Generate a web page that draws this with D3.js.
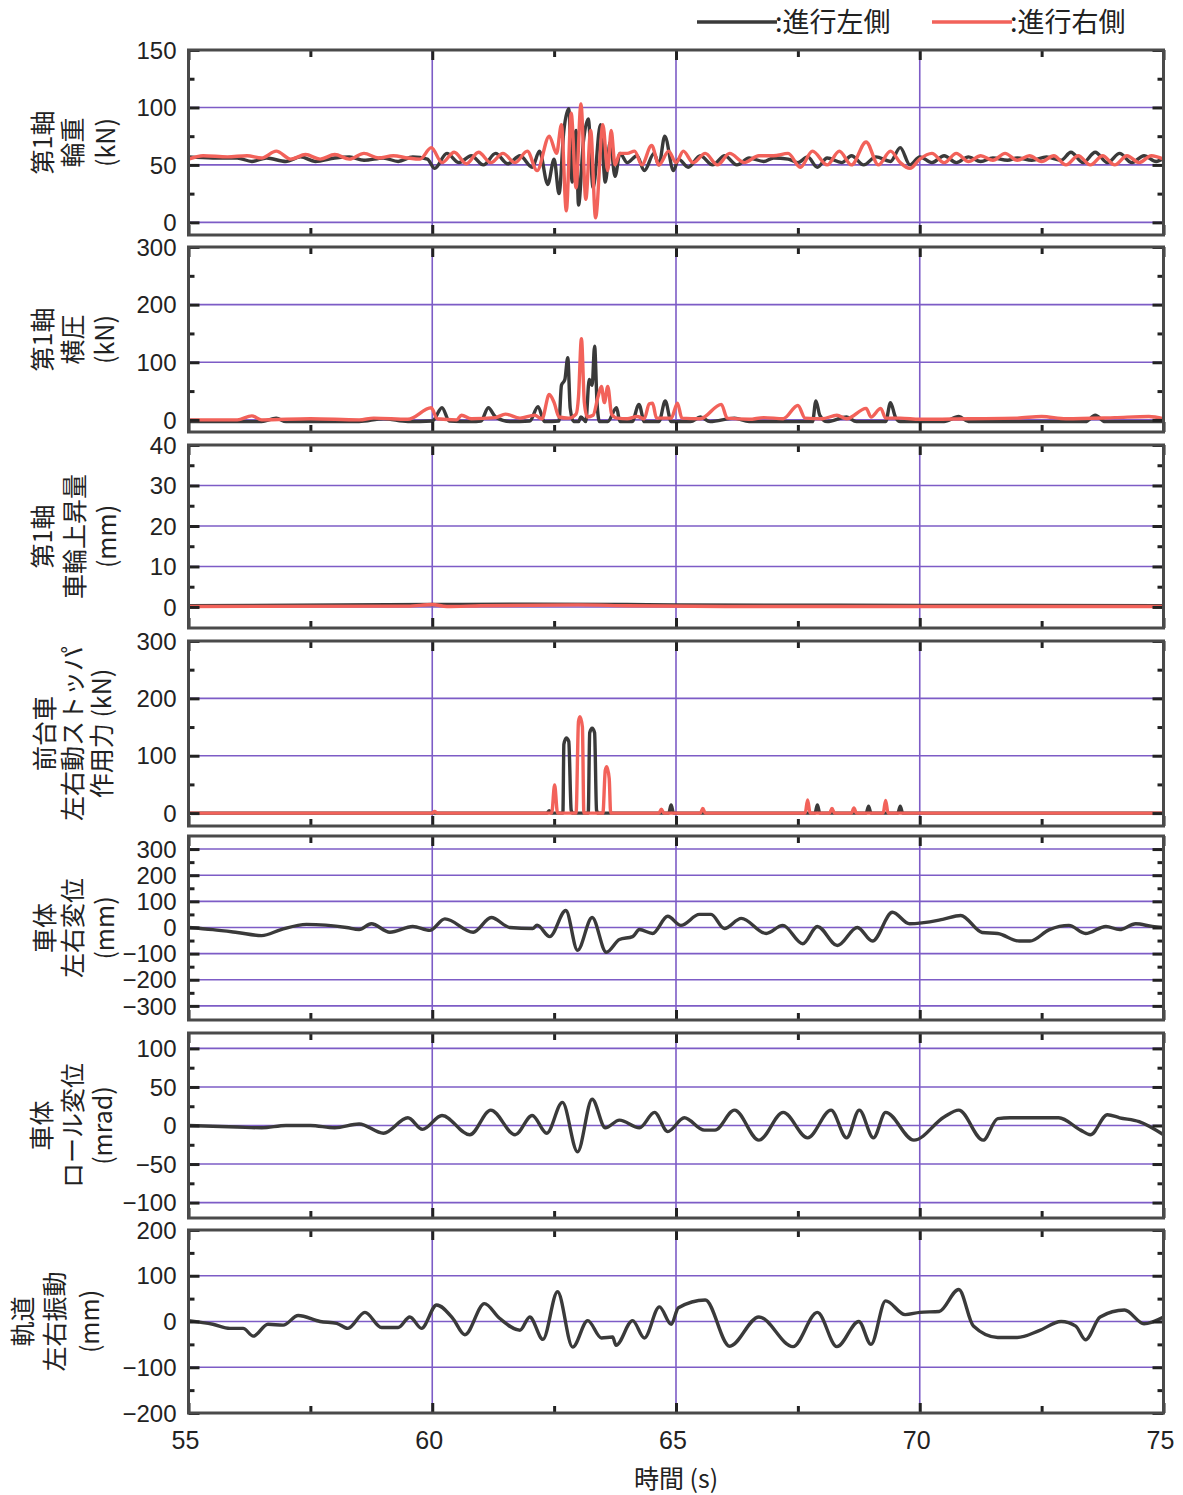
<!DOCTYPE html>
<html>
<head>
<meta charset="utf-8">
<script src="https://cdn.jsdelivr.net/npm/d3@7"></script>
<style>
body { margin:0; background:#fff; }
text { font-family:"Liberation Sans", Arial, "Noto Sans CJK JP", sans-serif; fill:#222; }
</style>
</head>
<body>
<svg id="chart" width="1183" height="1495"></svg>
<script>

// x axis
var timeDomain = [55, 75];
var timeTicks = [55, 60, 65, 70, 75];
var timeMinorTicks = [57.5, 62.5, 67.5, 72.5];
var timeGrid = [60, 65, 70];

// legend
var seriesNames = [':進行左側', ':進行右側'];

// panel 1 : 第1軸 輪重 (kN)
var wheelLoadLeft = [[55,57],[55.5,56],[56,56],[56.3,53],[56.6,56],[57,53],[57.3,57],[57.6,53],[58,56],[58.3,57],[58.6,54],[59,56],[59.3,53],[59.6,57],[59.9,55],[60.05,47],[60.3,60],[60.55,52],[60.8,58],[61.05,50],[61.3,60],[61.55,51],[61.8,58],[62.05,48],[62.2,62],[62.37,33],[62.5,55],[62.6,25],[62.7,80],[62.8,99],[62.87,35],[62.95,80],[63,15],[63.1,70],[63.2,90],[63.3,30],[63.45,85],[63.55,35],[63.65,70],[63.75,40],[63.85,60],[64,52],[64.2,58],[64.35,45],[64.55,60],[64.65,50],[64.77,75],[64.95,45],[65.05,55],[65.25,48],[65.5,58],[65.75,50],[66,58],[66.25,50],[66.5,56],[66.8,53],[67,56],[67.3,55],[67.5,52],[67.7,57],[67.9,48],[68.1,56],[68.4,52],[68.6,58],[68.85,50],[69.1,57],[69.4,53],[69.6,65],[69.8,50],[70,57],[70.25,52],[70.5,58],[70.75,52],[71,57],[71.25,53],[71.5,56],[71.8,54],[72,56],[72.3,54],[72.6,57],[72.9,54],[73.1,61],[73.35,52],[73.6,61],[73.85,52],[74.1,60],[74.35,52],[74.6,58],[74.85,53],[75,56]];
var wheelLoadRight = [[55,55],[55.3,58],[55.8,57],[56.2,58],[56.5,56],[56.8,62],[57.1,55],[57.4,59],[57.7,55],[58,59],[58.3,55],[58.6,60],[58.9,56],[59.2,58],[59.5,56],[59.75,55],[59.98,65],[60.2,52],[60.45,61],[60.7,51],[60.95,61],[61.2,52],[61.45,60],[61.7,52],[61.95,62],[62.15,45],[62.4,75],[62.55,60],[62.65,85],[62.75,10],[62.85,95],[62.95,30],[63.05,103],[63.15,20],[63.25,80],[63.35,4],[63.5,85],[63.6,45],[63.67,80],[63.75,50],[63.85,60],[64,60],[64.15,62],[64.3,50],[64.5,67],[64.65,50],[64.85,62],[65,52],[65.15,62],[65.35,52],[65.6,60],[65.85,50],[66.1,60],[66.4,52],[66.7,58],[67,58],[67.3,60],[67.55,48],[67.8,62],[68.1,50],[68.35,62],[68.6,50],[68.9,70],[69.15,50],[69.4,62],[69.6,52],[69.8,47],[70,55],[70.25,60],[70.5,52],[70.75,60],[71,53],[71.25,58],[71.5,54],[71.75,60],[72,54],[72.25,58],[72.5,53],[72.75,58],[73,50],[73.25,58],[73.5,50],[73.75,58],[74,50],[74.25,58],[74.5,52],[74.75,58],[75,55]];

// panel 2 : 第1軸 横圧 (kN)
var lateralLeft = [[55,-3],[56.5,-3],[56.8,3],[57,-3],[58.5,-3],[59,2],[59.5,-3],[60,-2],[60.2,21],[60.35,-2],[60.8,-3],[61,-2],[61.15,21],[61.3,5],[61.6,-3],[62,-2],[62.17,23],[62.3,-3],[62.6,-2],[62.65,60],[62.72,70],[62.78,108],[62.83,20],[62.9,-3],[63,-3],[63.05,5],[63.15,-3],[63.22,70],[63.28,60],[63.33,128],[63.38,30],[63.43,-3],[63.6,-3],[63.78,21],[63.85,-3],[64.1,-3],[64.24,27],[64.35,-3],[64.65,-3],[64.78,33],[64.9,-3],[65.3,-3],[65.5,5],[65.7,-3],[66.2,3],[66.5,-3],[67.8,-3],[67.87,33],[67.95,8],[68.1,-3],[68.5,5],[68.7,-3],[69.3,-3],[69.4,30],[69.5,5],[69.6,-3],[70.5,-3],[70.8,6],[71,-3],[73.4,-3],[73.6,8],[73.8,-3],[75,-3]];
var lateralRight = [[55,0],[56,0],[56.3,7],[56.5,0],[57.5,2],[58.5,0],[58.8,3],[59.5,1],[59.98,21],[60.1,2],[60.5,0],[60.6,8],[60.8,2],[61.3,4],[61.5,10],[61.8,3],[62.1,8],[62.25,2],[62.4,44],[62.5,30],[62.6,5],[62.8,3],[62.95,10],[63,40],[63.06,141],[63.12,30],[63.18,5],[63.3,8],[63.4,40],[63.47,58],[63.53,30],[63.6,58],[63.68,10],[63.8,3],[64,2],[64.2,6],[64.35,2],[64.45,28],[64.52,29],[64.6,3],[64.9,3],[65.03,29],[65.12,3],[65.5,2],[65.93,27],[66.05,3],[66.5,1],[66.8,4],[67.2,2],[67.5,25],[67.65,3],[68,2],[68.3,8],[68.5,2],[68.9,20],[69,5],[69.2,20],[69.3,3],[69.6,3],[70,1],[71,2],[72,3],[72.5,6],[73,2],[74,4],[74.7,6],[75,2]];

// panel 3 : 第1軸 車輪上昇量 (mm)
var liftLeft = [[55,0.3],[60,0.6],[62,0.7],[64,0.6],[65,0.5],[70,0.4],[75,0.3]];
var liftRight = [[55,0.1],[59.5,0.2],[60,0.6],[60.3,0.1],[61,0.3],[63,0.5],[64,0.3],[66,0.1],[70,0.1],[75,0.1]];

// panel 4 : 前台車 左右動ストッパ 作用力 (kN)
var stopperLeft = [[55,0],[62.35,0],[62.4,4],[62.45,0],[62.68,0],[62.7,120],[62.75,131],[62.8,125],[62.85,5],[62.88,0],[63.2,0],[63.23,140],[63.28,148],[63.33,140],[63.37,5],[63.4,0],[64.85,0],[64.9,14],[64.95,0],[67.85,0],[67.9,14],[67.95,0],[68.9,0],[68.95,12],[69,0],[69.55,0],[69.6,12],[69.65,0],[75,0]];
var stopperRight = [[55,0],[60,0],[60.05,3],[60.1,0],[62.45,0],[62.51,49],[62.57,0],[62.95,0],[63,160],[63.03,168],[63.08,150],[63.11,0],[63.5,0],[63.55,75],[63.58,81],[63.63,60],[63.66,0],[64.65,0],[64.7,7],[64.75,0],[65.5,0],[65.55,8],[65.6,0],[67.65,0],[67.7,23],[67.75,0],[68.15,0],[68.2,8],[68.25,0],[68.6,0],[68.65,9],[68.7,0],[69.25,0],[69.3,22],[69.35,0],[75,0]];

// panel 5 : 車体 左右変位 (mm)
var bodyLateral = [[55,0],[55.5,-8],[56,-19],[56.5,-31],[56.9,-8],[57.42,12],[58.24,0],[58.5,-8],[58.75,14],[59.13,-18],[59.6,4],[59.95,-11],[60.26,33],[60.84,-18],[61.21,38],[61.59,0],[62.06,-4],[62.15,9],[62.41,-35],[62.74,65],[62.98,-87],[63.28,38],[63.57,-95],[63.84,-46],[64.11,-35],[64.25,-8],[64.52,-23],[64.83,43],[65.1,8],[65.48,50],[65.72,50],[65.99,-4],[66.34,35],[66.85,-23],[67.19,8],[67.6,-62],[67.9,4],[68.31,-69],[68.72,0],[69.03,-52],[69.44,58],[69.79,14],[70.47,31],[70.84,46],[71.28,-19],[71.6,-23],[72.04,-52],[72.26,-52],[72.66,-8],[73.06,8],[73.4,-23],[73.82,4],[74.1,-8],[74.43,14],[74.77,4],[75,0]];

// panel 6 : 車体 ロール変位 (mrad)
var bodyRoll = [[55,0],[56,-2],[56.5,-3],[57,0],[57.5,0],[58,-3],[58.5,2],[59,-10],[59.5,10],[59.8,-5],[60.2,13],[60.77,-12],[61.2,20],[61.7,-12],[62.05,13],[62.35,-10],[62.67,30],[62.98,-34],[63.28,34],[63.55,-3],[63.84,7],[64.25,-3],[64.56,17],[64.83,-8],[65.17,10],[65.58,-6],[65.8,-6],[66.2,20],[66.7,-19],[67.2,17],[67.7,-16],[68.18,20],[68.5,-16],[68.76,20],[69.05,-16],[69.3,17],[69.88,-19],[70.5,11],[70.8,20],[71.3,-19],[71.6,9],[71.85,10],[72.85,10],[73.3,-6],[73.5,-12],[73.85,14],[74.1,10],[74.5,5],[75,-12]];

// panel 7 : 軌道 左右振動 (mm)
var trackLateral = [[55,2],[55.5,-6],[55.85,-15],[56.12,-15],[56.33,-32],[56.63,-6],[56.94,-8],[57.25,13],[57.7,0],[58.04,-4],[58.27,-15],[58.62,20],[58.96,-13],[59.3,-13],[59.54,10],[59.78,-15],[60.09,36],[60.42,7],[60.67,-29],[61.07,39],[61.38,7],[61.8,-19],[62,10],[62.27,-39],[62.57,65],[62.88,-56],[63.19,2],[63.47,-36],[63.7,-34],[63.77,-52],[64.11,2],[64.35,-36],[64.66,32],[64.9,-6],[65.05,30],[65.6,47],[66.1,-54],[66.7,10],[67.4,-55],[67.9,20],[68.3,-55],[68.75,0],[69,-50],[69.3,45],[69.7,15],[70,20],[70.4,22],[70.8,70],[71.1,-10],[71.6,-35],[72,-35],[72.45,-20],[72.9,0],[73.2,-10],[73.4,-40],[73.7,10],[74.2,25],[74.6,-5],[75,10]];

// panel definitions (axis values + labels)
var panelLabels = [
  ['第1軸', '輪重', '(kN)'],
  ['第1軸', '横圧', '(kN)'],
  ['第1軸', '車輪上昇量', '(mm)'],
  ['前台車', '左右動ストッパ', '作用力 (kN)'],
  ['車体', '左右変位', '(mm)'],
  ['車体', 'ロール変位', '(mrad)'],
  ['軌道', '左右振動', '(mm)']
];
var panelDomains = [[-11,150],[-21,300],[-5.2,40],[-22.5,300],[-354,350],[-120,120],[-200,200]];
var panelTicks = [
  [0,50,100,150],
  [0,100,200,300],
  [0,10,20,30,40],
  [0,100,200,300],
  [-300,-200,-100,0,100,200,300],
  [-100,-50,0,50,100],
  [-200,-100,0,100,200]
];
var panelMinorTicks = [
  [25,75,125],
  [50,150,250],
  [5,15,25,35],
  [50,150,250],
  [-250,-150,-50,50,150,250],
  [-75,-25,25,75],
  [-150,-50,50,150]
];
var panelSeries = [
  [wheelLoadLeft, wheelLoadRight],
  [lateralLeft, lateralRight],
  [liftLeft, liftRight],
  [stopperLeft, stopperRight],
  [bodyLateral],
  [bodyRoll],
  [trackLateral]
];

// layout
var colorFrame = '#4a4a4a';
var colorGrid = '#7d5cc6';
var colorLeft = '#3a3a3a';
var colorRight = '#f2625a';
var plotLeft = 188.5;
var plotRight = 1163.5;
var frameTops = [50, 247, 445, 641, 836, 1033, 1230];
var frameBottoms = [235, 432, 628, 826, 1020, 1218, 1413];
var labelX = [[43,73,106],[43,73,105],[43,75,107],[45,73,102],[45,73,105],[42,73,103],[23,55,90]];

var svg = d3.select('#chart');

var x = d3.scaleLinear()
          .domain(timeDomain)
          .range([plotLeft, plotRight]);

panelSeries.forEach(function(series, i) {

  var top = frameTops[i];
  var bottom = frameBottoms[i];
  var y = d3.scaleLinear()
            .domain(panelDomains[i])
            .range([bottom, top]);
  var g = svg.append('g');

  // grid
  g.selectAll('.hgrid')
   .data(panelTicks[i].filter(function(v){ return Math.abs(y(v)-top) > 2 && Math.abs(y(v)-bottom) > 2; }))
   .enter().append('line')
   .attr('x1', plotLeft).attr('x2', plotRight)
   .attr('y1', function(v){ return y(v); })
   .attr('y2', function(v){ return y(v); })
   .attr('stroke', colorGrid)
   .attr('stroke-width', 1.6);
  g.selectAll('.vgrid')
   .data(timeGrid)
   .enter().append('line')
   .attr('x1', function(t){ return x(t); })
   .attr('x2', function(t){ return x(t); })
   .attr('y1', top).attr('y2', bottom)
   .attr('stroke', colorGrid)
   .attr('stroke-width', 1.6);

  // series
  var line = d3.line()
               .curve(d3.curveMonotoneX)
               .x(function(d){ return x(d[0]); })
               .y(function(d){ return y(d[1]); });
  series.forEach(function(data, k) {
    g.append('path')
     .datum(data)
     .attr('d', line)
     .attr('fill', 'none')
     .attr('stroke', k === 0 ? colorLeft : colorRight)
     .attr('stroke-width', 3.4)
     .attr('stroke-linejoin', 'round');
  });

  // inward ticks, all four sides
  function ticks(axis, tx, ty) {
    var a = g.append('g')
             .attr('transform', 'translate(' + tx + ',' + ty + ')')
             .call(axis);
    a.select('.domain').remove();
    a.selectAll('line').attr('stroke', '#222').attr('stroke-width', 3);
  }
  ticks(d3.axisRight(y).tickValues(panelTicks[i]).tickSize(11).tickFormat(''), plotLeft, 0);
  ticks(d3.axisRight(y).tickValues(panelMinorTicks[i]).tickSize(6).tickFormat(''), plotLeft, 0);
  ticks(d3.axisLeft(y).tickValues(panelTicks[i]).tickSize(11).tickFormat(''), plotRight, 0);
  ticks(d3.axisLeft(y).tickValues(panelMinorTicks[i]).tickSize(6).tickFormat(''), plotRight, 0);
  ticks(d3.axisBottom(x).tickValues(timeTicks).tickSize(10).tickFormat(''), 0, top);
  ticks(d3.axisBottom(x).tickValues(timeMinorTicks).tickSize(7).tickFormat(''), 0, top);
  ticks(d3.axisTop(x).tickValues(timeTicks).tickSize(10).tickFormat(''), 0, bottom);
  ticks(d3.axisTop(x).tickValues(timeMinorTicks).tickSize(7).tickFormat(''), 0, bottom);

  // frame
  g.append('rect')
   .attr('x', plotLeft).attr('y', top)
   .attr('width', plotRight - plotLeft)
   .attr('height', bottom - top)
   .attr('fill', 'none')
   .attr('stroke', colorFrame)
   .attr('stroke-width', 3);

  // tick labels
  var lab = g.append('g')
             .attr('transform', 'translate(' + (plotLeft - 9) + ',0)')
             .call(d3.axisLeft(y).tickValues(panelTicks[i]).tickSize(0).tickFormat(function(v){ return v < 0 ? '\u2212' + (-v) : v; }));
  lab.select('.domain').remove();
  lab.selectAll('text')
     .attr('dy', '0.34em')
     .style('font-size', '24px')
     .style('fill', '#222');

  // y title
  var mid = (top + bottom) / 2;
  panelLabels[i].forEach(function(txt, j) {
    g.append('text')
     .text(txt)
     .attr('transform', 'translate(' + labelX[i][j] + ',' + mid + ') rotate(-90)')
     .attr('text-anchor', 'middle')
     .attr('dy', '0.35em')
     .style('font-size', '25px')
     .style('font-family', '"Noto Sans CJK JP", sans-serif');
  });
});

// x tick labels
svg.selectAll('.xlab')
   .data(timeTicks)
   .enter().append('text')
   .text(function(t){ return t; })
   .attr('x', function(t){ return x(t) - 3; })
   .attr('y', 1449)
   .attr('text-anchor', 'middle')
   .style('font-size', '25px');

svg.append('text')
   .text('時間 (s)')
   .attr('x', x(65))
   .attr('y', 1488)
   .attr('text-anchor', 'middle')
   .style('font-size', '25px')
   .style('font-family', '"Noto Sans CJK JP", sans-serif');

// legend
var legendX = [697, 932];
seriesNames.forEach(function(name, k) {
  svg.append('line')
     .attr('x1', legendX[k]).attr('x2', legendX[k] + 80)
     .attr('y1', 22).attr('y2', 22)
     .attr('stroke', k === 0 ? colorLeft : colorRight)
     .attr('stroke-width', 3.4);
  svg.append('text')
     .text(name)
     .attr('x', legendX[k] + 78)
     .attr('y', 32)
     .style('font-size', '27px')
     .style('font-family', '"Noto Sans CJK JP", sans-serif');
});

</script>
</body>
</html>
